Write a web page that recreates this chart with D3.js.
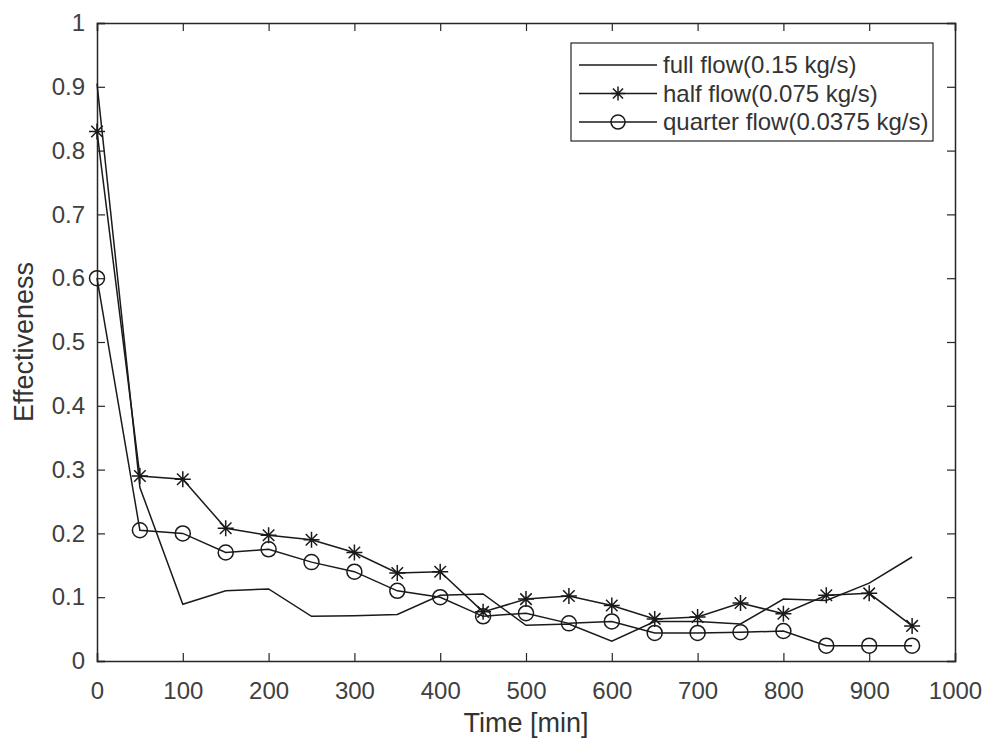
<!DOCTYPE html>
<html>
<head>
<meta charset="utf-8">
<script src="https://cdn.jsdelivr.net/npm/d3@7"></script>
<style>
  body { margin: 0; background: #fff; }
  text { font-family: "Liberation Sans", Arial, Helvetica, sans-serif; fill: #333; }
</style>
</head>
<body>
<div id="chart"></div>
<script>
// data
var times = [0, 50, 100, 150, 200, 250, 300, 350, 400, 450, 500, 550, 600, 650, 700, 750, 800, 850, 900, 950];
var fullFlow = [0.905, 0.272, 0.089, 0.110, 0.113, 0.070, 0.071, 0.073, 0.103, 0.105, 0.056, 0.058, 0.031, 0.062, 0.062, 0.058, 0.097, 0.095, 0.122, 0.163];
var halfFlow = [0.830, 0.290, 0.285, 0.208, 0.197, 0.190, 0.170, 0.138, 0.140, 0.077, 0.097, 0.102, 0.087, 0.066, 0.069, 0.091, 0.074, 0.103, 0.106, 0.055];
var quarterFlow = [0.600, 0.205, 0.200, 0.170, 0.175, 0.155, 0.140, 0.110, 0.100, 0.070, 0.075, 0.059, 0.062, 0.044, 0.044, 0.045, 0.047, 0.024, 0.024, 0.024];
var seriesNames = ["full flow(0.15 kg/s)", "half flow(0.075 kg/s)", "quarter flow(0.0375 kg/s)"];
var xTicks = [0, 100, 200, 300, 400, 500, 600, 700, 800, 900, 1000];
var yTicks = [0, 0.1, 0.2, 0.3, 0.4, 0.5, 0.6, 0.7, 0.8, 0.9, 1];

// set the dimensions and margins of the graph
var margin = {top: 23, right: 32, bottom: 79, left: 97},
    width = 987 - margin.left - margin.right,
    height = 740 - margin.top - margin.bottom;

var ink = "#1a1a1a";

var svg = d3.select("#chart")
  .append("svg")
    .attr("width", 987)
    .attr("height", 740)
  .append("g")
    .attr("transform", "translate(" + margin.left + "," + margin.top + ")");

var x = d3.scaleLinear().domain([0, 1000]).range([0, width]);
var y = d3.scaleLinear().domain([0, 1]).range([height, 0]);

var tickFmt = function(d) { return d3.format("~g")(d); };

// axes, ticks pointing inward like matlab
var gx = svg.append("g")
  .attr("transform", "translate(0," + height + ")")
  .call(d3.axisBottom(x).tickValues(xTicks).tickSize(-8).tickPadding(21).tickFormat(tickFmt));
var gy = svg.append("g")
  .call(d3.axisLeft(y).tickValues(yTicks).tickSize(-8).tickPadding(12).tickFormat(tickFmt));
svg.append("g")
  .call(d3.axisTop(x).tickValues(xTicks).tickSize(-8).tickFormat(""));
svg.append("g")
  .attr("transform", "translate(" + width + ",0)")
  .call(d3.axisRight(y).tickValues(yTicks).tickSize(-8).tickFormat(""));

svg.selectAll(".domain").attr("stroke", "#262626").attr("stroke-width", 1.5);
svg.selectAll(".tick line").attr("stroke", "#262626").attr("stroke-width", 1.2);
svg.selectAll(".tick text").style("font-size", "24px").style("fill", "#404040");

// lines
var line = d3.line()
  .x(function(d, i) { return x(times[i]); })
  .y(function(d) { return y(d); });

[fullFlow, halfFlow, quarterFlow].forEach(function(s) {
  svg.append("path")
    .datum(s)
    .attr("fill", "none")
    .attr("stroke", ink)
    .attr("stroke-width", 1.5)
    .attr("d", line);
});

// star marker ('*' = plus + cross)
function star(g, cx, cy, r) {
  var k = r * 0.72;
  g.append("path")
    .attr("d", "M" + (cx - r) + "," + cy + "H" + (cx + r) +
               "M" + cx + "," + (cy - r) + "V" + (cy + r) +
               "M" + (cx - k) + "," + (cy - k) + "L" + (cx + k) + "," + (cy + k) +
               "M" + (cx - k) + "," + (cy + k) + "L" + (cx + k) + "," + (cy - k))
    .attr("stroke", ink)
    .attr("stroke-width", 1.5)
    .attr("fill", "none");
}

var stars = svg.append("g");
halfFlow.forEach(function(d, i) { star(stars, x(times[i]), y(d), 8); });

svg.append("g")
  .selectAll("circle")
  .data(quarterFlow)
  .enter()
  .append("circle")
    .attr("cx", function(d, i) { return x(times[i]); })
    .attr("cy", function(d) { return y(d); })
    .attr("r", 7.5)
    .attr("fill", "none")
    .attr("stroke", ink)
    .attr("stroke-width", 1.5);

// legend
var lg = svg.append("g").attr("transform", "translate(" + (571 - margin.left) + "," + (43 - margin.top) + ")");
lg.append("rect")
  .attr("width", 362).attr("height", 98)
  .attr("fill", "#fff")
  .attr("stroke", "#262626").attr("stroke-width", 1.2);
seriesNames.forEach(function(name, i) {
  var ly = 22 + i * 28.5;
  lg.append("line")
    .attr("x1", 8).attr("x2", 86).attr("y1", ly).attr("y2", ly)
    .attr("stroke", ink).attr("stroke-width", 1.5);
  if (i == 1) star(lg, 47, ly, 7);
  if (i == 2) lg.append("circle").attr("cx", 47).attr("cy", ly).attr("r", 7)
      .attr("fill", "none").attr("stroke", ink).attr("stroke-width", 1.5);
  lg.append("text")
    .attr("x", 92).attr("y", ly).attr("dy", "0.35em")
    .style("font-size", "24px")
    .text(name);
});

// axis labels
svg.append("text")
  .attr("transform", "rotate(-90)")
  .attr("x", -height / 2)
  .attr("y", -64)
  .attr("text-anchor", "middle")
  .style("font-size", "27px")
  .text("Effectiveness");

svg.append("text")
  .attr("x", width / 2)
  .attr("y", height + 71)
  .attr("text-anchor", "middle")
  .style("font-size", "27px")
  .text("Time [min]");
</script>
</body>
</html>
